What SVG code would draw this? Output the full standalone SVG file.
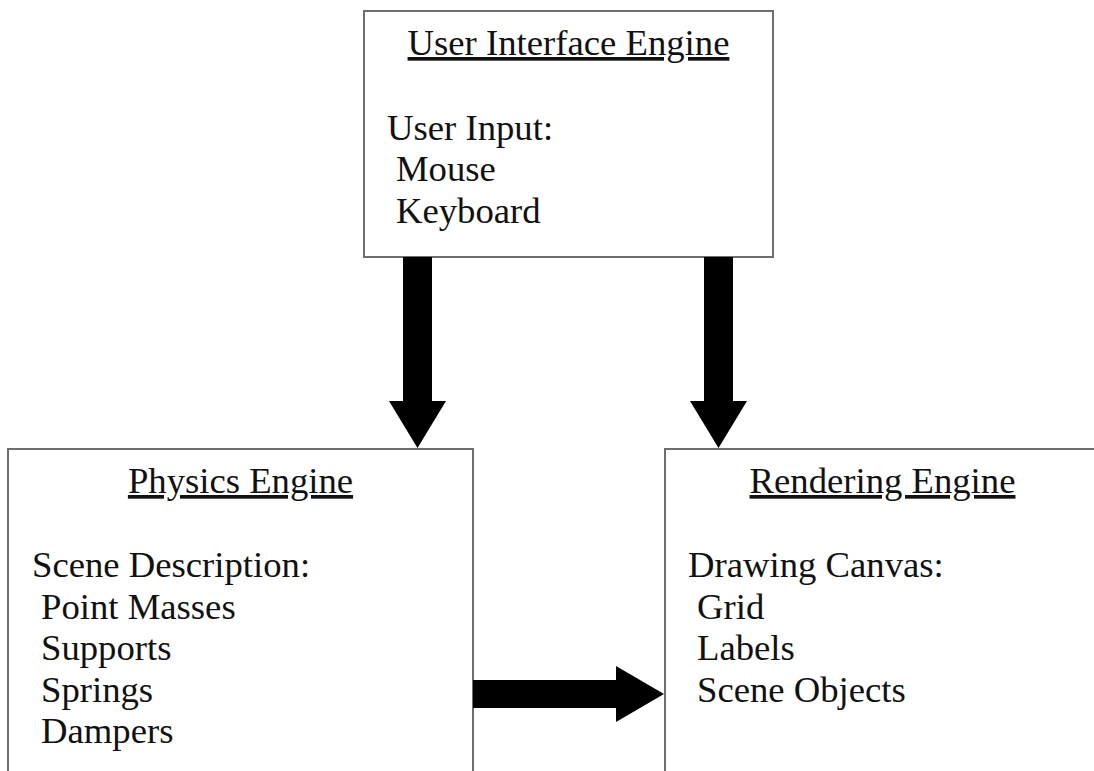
<svg xmlns="http://www.w3.org/2000/svg" width="1094" height="771" viewBox="0 0 1094 771">
  <style>
    .box { fill: #ffffff; stroke: #6e6e6e; stroke-width: 2; }
    text { font-family: 'Liberation Serif', Tinos, 'Times New Roman', Times, 'DejaVu Serif', serif; font-size: 36.7px; fill: #111111; }
    .title { text-anchor: middle; text-decoration: underline; }
    .arrow { fill: #000000; stroke: none; }
  </style>
  <rect x="0" y="0" width="1094" height="771" fill="#ffffff"/>

  <g id="user-interface-engine" font-family="Liberation Serif, serif">
    <rect class="box" x="364" y="11" width="409" height="246"/>
    <text class="title" x="568.5" y="55">User Interface Engine</text>
    <text x="387" y="139.5">User Input:</text>
    <text x="396" y="181">Mouse</text>
    <text x="396" y="222.5">Keyboard</text>
  </g>

  <g id="physics-engine" font-family="Liberation Serif, serif">
    <rect class="box" x="8" y="449" width="465" height="340"/>
    <text class="title" x="240.5" y="493">Physics Engine</text>
    <text x="32" y="577">Scene Description:</text>
    <text x="41" y="618.5">Point Masses</text>
    <text x="41" y="660">Supports</text>
    <text x="41" y="701.5">Springs</text>
    <text x="41" y="743">Dampers</text>
  </g>

  <g id="rendering-engine" font-family="Liberation Serif, serif">
    <rect class="box" x="665" y="449" width="440" height="340"/>
    <text class="title" x="882.5" y="493">Rendering Engine</text>
    <text x="688" y="577">Drawing Canvas:</text>
    <text x="697" y="618.5">Grid</text>
    <text x="697" y="660">Labels</text>
    <text x="697" y="701.5">Scene Objects</text>
  </g>

  <g id="connectors">
    <!-- UI engine to physics engine -->
    <polygon class="arrow" points="403,257 432,257 432,401 446,401 417.5,448 389,401 403,401"/>
    <!-- UI engine to rendering engine -->
    <polygon class="arrow" points="704,257 733,257 733,401 747,401 718.5,448 690,401 704,401"/>
    <!-- physics engine to rendering engine -->
    <polygon class="arrow" points="473,680 616,680 616,666 664,694 616,722 616,708 473,708"/>
  </g>
</svg>
